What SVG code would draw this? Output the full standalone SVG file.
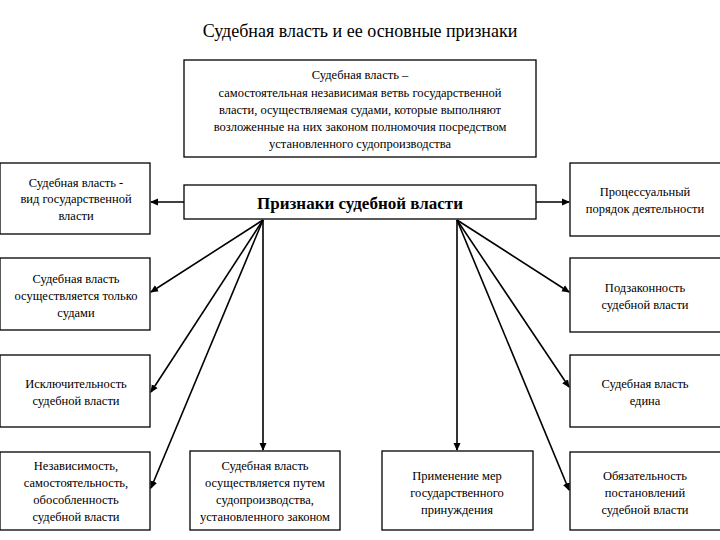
<svg xmlns="http://www.w3.org/2000/svg" width="720" height="540" viewBox="0 0 720 540" font-family="'Liberation Serif', 'DejaVu Serif', serif">
<style>
.b{fill:#fff;stroke:#000;stroke-width:1.3}
.t{font-family:'Liberation Serif','DejaVu Serif',serif;font-size:12.5px;text-anchor:middle;fill:#000}
.c line{stroke:#000;stroke-width:1.6}
</style>
<defs><marker id="a" markerWidth="8" markerHeight="8" refX="7" refY="4" orient="auto" markerUnits="userSpaceOnUse"><path d="M0,0.5L8,4L0,7.5z"/></marker></defs>
<rect width="720" height="540" fill="#fff"/>
<text x="360" y="37" font-family="'Liberation Serif', 'DejaVu Serif', serif" font-size="18" text-anchor="middle">Судебная власть и ее основные признаки</text>
<g id="def"><rect class="b" x="184" y="60" width="352" height="97" stroke-width="2"/>
<text class="t" font-family="'Liberation Serif', 'DejaVu Serif', serif"><tspan x="360" y="79">Судебная власть –</tspan><tspan x="360" y="97">самостоятельная независимая ветвь государственной</tspan><tspan x="360" y="114">власти, осуществляемая судами, которые выполняют</tspan><tspan x="360" y="131">возложенные на них законом полномочия посредством</tspan><tspan x="360" y="148">установленного судопроизводства</tspan></text></g>
<g id="main"><rect class="b" x="184" y="185" width="352" height="34" stroke-width="2.5"/>
<text x="360" y="209" font-family="'Liberation Serif', 'DejaVu Serif', serif" font-size="17" font-weight="bold" text-anchor="middle">Признаки судебной власти</text></g>
<g id="l1"><rect class="b" x="0" y="163" width="150" height="71"/><text class="t"><tspan x="76" y="187">Судебная власть -</tspan><tspan x="76" y="203">вид государственной</tspan><tspan x="76" y="220">власти</tspan></text></g>
<g id="l2"><rect class="b" x="0" y="258" width="150" height="72"/><text class="t"><tspan x="76" y="283">Судебная власть</tspan><tspan x="76" y="300">осуществляется только</tspan><tspan x="76" y="317">судами</tspan></text></g>
<g id="l3"><rect class="b" x="0" y="355" width="150" height="72"/><text class="t"><tspan x="76" y="388">Исключительность</tspan><tspan x="76" y="405">судебной власти</tspan></text></g>
<g id="l4"><rect class="b" x="0" y="452" width="150" height="78"/><text class="t"><tspan x="76" y="470">Независимость,</tspan><tspan x="76" y="487">самостоятельность,</tspan><tspan x="76" y="504">обособленность</tspan><tspan x="76" y="521">судебной власти</tspan></text></g>
<g id="b1"><rect class="b" x="190" y="451" width="150" height="79"/><text class="t"><tspan x="265" y="470">Судебная власть</tspan><tspan x="265" y="487">осуществляется путем</tspan><tspan x="265" y="504">судопроизводства,</tspan><tspan x="265" y="521">установленного законом</tspan></text></g>
<g id="b2"><rect class="b" x="382" y="451" width="151" height="79"/><text class="t"><tspan x="457" y="480">Применение мер</tspan><tspan x="457" y="497">государственного</tspan><tspan x="457" y="514">принуждения</tspan></text></g>
<g id="r1"><rect class="b" x="570" y="163" width="152" height="73"/><text class="t"><tspan x="645" y="196">Процессуальный</tspan><tspan x="645" y="213">порядок деятельности</tspan></text></g>
<g id="r2"><rect class="b" x="570" y="258" width="152" height="74"/><text class="t"><tspan x="645" y="292">Подзаконность</tspan><tspan x="645" y="309">судебной власти</tspan></text></g>
<g id="r3"><rect class="b" x="570" y="355" width="152" height="72"/><text class="t"><tspan x="645" y="388">Судебная власть</tspan><tspan x="645" y="405">едина</tspan></text></g>
<g id="r4"><rect class="b" x="570" y="452" width="152" height="78"/><text class="t"><tspan x="645" y="480">Обязательность</tspan><tspan x="645" y="497">постановлений</tspan><tspan x="645" y="514">судебной власти</tspan></text></g>
<g class="c">
<line x1="184" y1="202" x2="151" y2="202" stroke-width="2.5" marker-end="url(#a)"/>
<line x1="536" y1="202" x2="569" y2="202" stroke-width="2.5" marker-end="url(#a)"/>
<line x1="263" y1="220" x2="151" y2="292" marker-end="url(#a)"/>
<line x1="263" y1="220" x2="151" y2="392" marker-end="url(#a)"/>
<line x1="263" y1="220" x2="151" y2="488" marker-end="url(#a)"/>
<line x1="263" y1="220" x2="263" y2="450" marker-end="url(#a)"/>
<line x1="457" y1="220" x2="457" y2="450" marker-end="url(#a)"/>
<line x1="457" y1="220" x2="569" y2="292" marker-end="url(#a)"/>
<line x1="457" y1="220" x2="569" y2="387" marker-end="url(#a)"/>
<line x1="457" y1="220" x2="569" y2="490" marker-end="url(#a)"/>
</g>
</svg>
